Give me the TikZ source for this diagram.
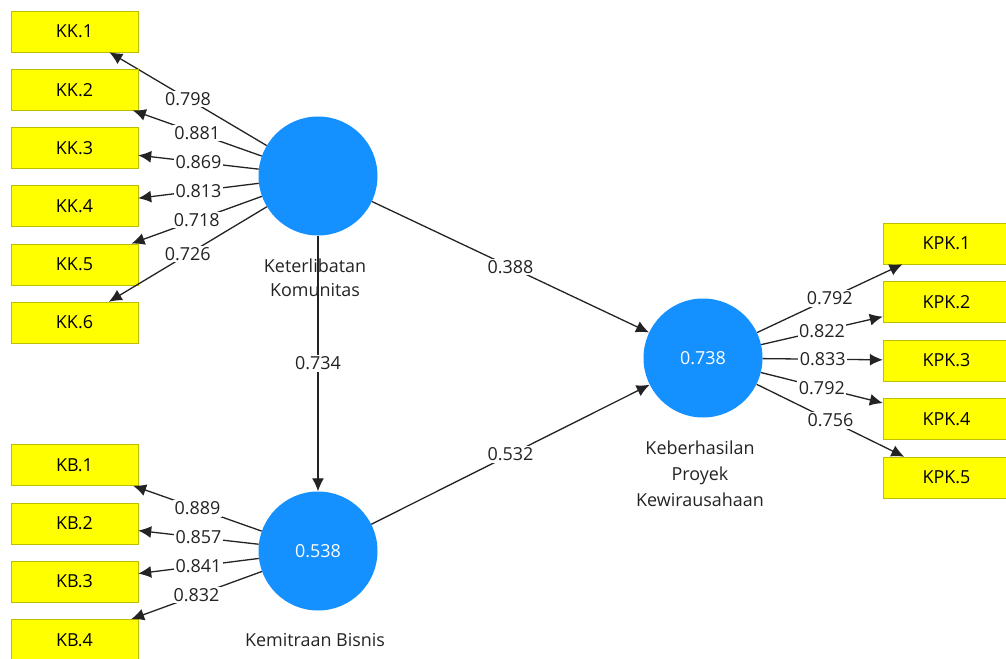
\documentclass[tikz,border=0pt]{standalone}
\usepackage{fontspec}
\setmainfont{Open Sans}
\usepackage{tikz}
\usetikzlibrary{arrows.meta}
\definecolor{PlsYellow}{RGB}{255,255,0}
\definecolor{PlsYellowLine}{RGB}{190,190,0}
\definecolor{PlsBlue}{RGB}{20,144,255}
\definecolor{PlsLine}{RGB}{35,35,35}

\begin{document}
\begin{tikzpicture}[x=1bp,y=-1bp,font=\fontsize{18}{24}\selectfont,
  ind/.style={rectangle,draw=PlsYellowLine,fill=PlsYellow,minimum width=127bp,minimum height=41bp,inner sep=0pt},
  lv/.style={circle,fill=PlsBlue,minimum size=119bp,inner sep=0pt,text=white},
  arr/.style={draw=PlsLine,line width=1.3bp,-{Latex[length=13bp,width=12bp]}},
  w/.style={fill=white,text=PlsLine,inner sep=1.5bp,pos=0.5}]
    \useasboundingbox (0,0) rectangle (1006,659);
    % latent variables
    \node[lv](kk) at (318,176) {};
    \node[lv](kb) at (318,551) {0.538};
    \node[lv](kpk) at (703,358) {0.738};
    \node[align=center,text=PlsLine](kkname) at (315,278) {Keterlibatan\\Komunitas};
    \node[text=PlsLine](kbname) at (315,640) {Kemitraan Bisnis};
    \node[align=center,text=PlsLine,font=\fontsize{18}{26}\selectfont](kpkname) at (700,474) {Keberhasilan\\Proyek\\Kewirausahaan};
    % indicators
    \foreach \i/\w in %
    {1/0.798,2/0.881,3/0.869,4/0.813,5/0.718,6/0.726} {
       \node[ind](kk\i) at (74.5,31.5+58.2*\i-58.2) {KK.\i};
       \draw[arr] (kk) -- node[w]{\w} (kk\i);
    }
    \foreach \i/\w in %
    {1/0.889,2/0.857,3/0.841,4/0.832} {
       \node[ind](kb\i) at (74.5,465+58.3*\i-58.3) {KB.\i};
       \draw[arr] (kb) -- node[w]{\w} (kb\i);
    }
    \foreach \i/\w in %
    {1/0.792,2/0.822,3/0.833,4/0.792,5/0.756} {
       \node[ind](kpk\i) at (946.5,243.5+58.5*\i-58.5) {KPK.\i};
       \draw[arr] (kpk) -- node[w]{\w} (kpk\i);
    }
    % paths
    \draw[arr] (kk) -- node[w]{0.734} (kb);
    \draw[arr] (kk) -- node[w]{0.388} (kpk);
    \draw[arr] (kb) -- node[w]{0.532} (kpk);
\end{tikzpicture}
\end{document}
